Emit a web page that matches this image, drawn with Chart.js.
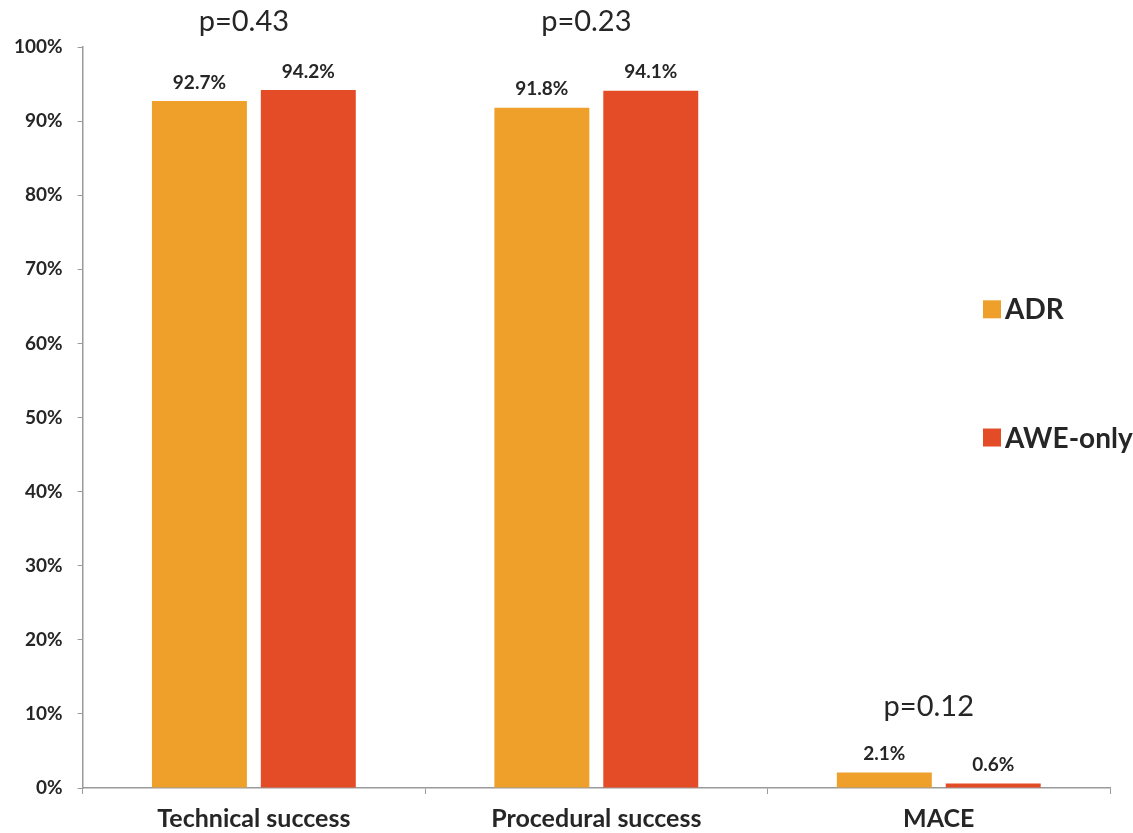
<!DOCTYPE html>
<html>
<head>
<meta charset="utf-8">
<title>ADR vs AWE-only outcomes</title>
<script src="https://cdn.jsdelivr.net/npm/chart.js@4.4.1/dist/chart.umd.min.js"></script>
<style>
  html, body { margin: 0; padding: 0; background: #fff; }
  #wrap { position: relative; width: 1133px; height: 833px; }
</style>
</head>
<body>
<div id="wrap"><canvas id="outcomes"></canvas></div>
<script>
// outcome categories and percentages per strategy
const categories = ['Technical success', 'Procedural success', 'MACE'];
const adrValues = [92.7, 91.8, 2.1];
const aweValues = [94.2, 94.1, 0.6];
const seriesNames = ['ADR', 'AWE-only'];
const pValues = ['p=0.43', 'p=0.23', 'p=0.12'];
const yTicks = [0, 10, 20, 30, 40, 50, 60, 70, 80, 90, 100];

const palette = {
  adr: '#EEA02A',
  awe: '#E44C27',
  axis: '#9a9a9a',
  text: '#262626'
};
const fontFamily = 'Lato, "Open Sans", sans-serif';

// value labels above each bar
const barLabels = {
  id: 'barLabels',
  afterDatasetsDraw(chart) {
    const ctx = chart.ctx;
    ctx.save();
    ctx.font = 'bold 19px ' + fontFamily;
    ctx.fillStyle = palette.text;
    ctx.textAlign = 'center';
    ctx.textBaseline = 'bottom';
    chart.data.datasets.forEach((ds, di) => {
      chart.getDatasetMeta(di).data.forEach((bar, i) => {
        ctx.fillText(ds.data[i].toFixed(1) + '%', bar.x, bar.y - 9);
      });
    });
    ctx.restore();
  }
};

// p-values: above the groups, and lower down for the small MACE bars
const pLabels = {
  id: 'pLabels',
  afterDraw(chart) {
    const ctx = chart.ctx;
    const x = chart.scales.x;
    const y = chart.scales.y;
    ctx.save();
    ctx.font = '29px ' + fontFamily;
    ctx.fillStyle = palette.text;
    ctx.textAlign = 'center';
    ctx.textBaseline = 'middle';
    pValues.forEach((p, i) => {
      const level = i < 2 ? 103.4 : 11;
      ctx.fillText(p, x.getPixelForValue(i) - 10, y.getPixelForValue(level));
    });
    ctx.restore();
  }
};

// legend sits inside the plot, right side
const sideLegend = {
  id: 'sideLegend',
  afterDraw(chart) {
    const ctx = chart.ctx;
    const area = chart.chartArea;
    const y = chart.scales.y;
    const rows = [64.6, 47.3];
    ctx.save();
    ctx.font = 'bold 28px ' + fontFamily;
    ctx.textBaseline = 'middle';
    ctx.textAlign = 'left';
    seriesNames.forEach((name, i) => {
      const cy = y.getPixelForValue(rows[i]);
      const lx = area.right - 127;
      ctx.fillStyle = chart.data.datasets[i].backgroundColor;
      ctx.fillRect(lx, cy - 9, 18, 18);
      ctx.fillStyle = palette.text;
      ctx.fillText(name, lx + 22, cy + 1);
    });
    ctx.restore();
  }
};

new Chart(document.getElementById('outcomes'), {
  type: 'bar',
  data: {
    labels: categories,
    datasets: [
      { label: seriesNames[0], data: adrValues, backgroundColor: palette.adr },
      { label: seriesNames[1], data: aweValues, backgroundColor: palette.awe }
    ]
  },
  options: {
    responsive: true,
    maintainAspectRatio: false,
    animation: false,
    datasets: {
      bar: { categoryPercentage: 0.636, barPercentage: 0.872 }
    },
    layout: { padding: { top: 47, left: -1, right: 23, bottom: -11 } },
    plugins: {
      legend: { display: false },
      tooltip: { enabled: false }
    },
    scales: {
      x: {
        grid: { display: true, drawOnChartArea: false, drawTicks: true, tickLength: 6, color: palette.axis, offset: true },
        border: { color: palette.axis, width: 1.5 },
        ticks: { color: palette.text, font: { family: fontFamily, size: 25, weight: 'bold' }, padding: 10 }
      },
      y: {
        min: 0,
        max: 100,
        afterBuildTicks(axis) {
          axis.ticks = yTicks.map((v) => ({ value: v }));
        },
        grid: { display: true, drawOnChartArea: false, drawTicks: true, tickLength: 5, color: palette.axis },
        border: { color: palette.axis, width: 1.5 },
        ticks: {
          color: palette.text,
          font: { family: fontFamily, size: 19, weight: 'bold' },
          padding: 15,
          callback: (v) => v + '%'
        }
      }
    }
  },
  plugins: [barLabels, pLabels, sideLegend]
});
</script>
</body>
</html>
